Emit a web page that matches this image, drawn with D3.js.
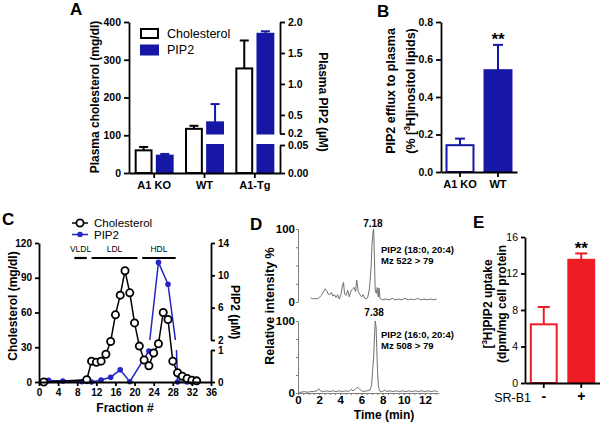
<!DOCTYPE html>
<html><head><meta charset="utf-8">
<script src="https://cdn.jsdelivr.net/npm/d3@7"></script>
<style>
body{margin:0;background:#fff;}
svg{display:block;}
</style></head><body>
<svg id="c" width="600" height="423"></svg>
<script>
// ---------- DATA ----------
// Panel A
const groupsA = ["A1 KO", "WT", "A1-Tg"];
const seriesA = ["Cholesterol", "PIP2"];
const cholA = [60, 117, 277];
const cholSemA = [9, 8, 74];
const pip2A = [0.031, 0.38, 1.81];
const pip2SemA = [0.003, 0.295, 0.04];
const ticksALeft = [0, 100, 200, 300, 400];
const ticksARightUp = [0.2, 0.5, 1.0, 1.5, 2.0];
const labelsARightUp = ["0.2", "0.5", "1.0", "1.5", "2.0"];
const ticksARightLow = [0, 0.05];
const labelsARightLow = ["0.00", "0.05"];
// Panel B
const groupsB = ["A1 KO", "WT"];
const valsB = [0.143, 0.543];
const semB = [0.035, 0.135];
const ticksB = [0, 0.2, 0.4, 0.6, 0.8];
// Panel C
const fracC = [1, 10, 11, 12, 13, 14, 15, 16, 17, 18, 19, 20, 21, 22, 23, 24, 25, 26, 27, 28, 29, 30, 31, 32, 33];
const cholC = [0, 2, 18, 17, 18, 24, 35, 58, 75, 96, 77, 51, 31, 19, 14, 25, 33, 60, 54, 18, 8, 5, 3, 1.5, 1];
const fracPipC = [2, 5, 9, 11, 13, 15, 17, 19, 23, 25, 27, 29, 31];
const pipC = [0.05, 0.03, 0.01, 0, 0.06, 0.15, 0.38, 0.01, 0.97, 11.6, 8.9, 0, 0];
const lipoNames = ["VLDL", "LDL", "HDL"];
const lipoStart = [7.4, 11, 21.6];
const lipoEnd = [10, 20.6, 28.6];
const ticksCx = [0, 4, 8, 12, 16, 20, 24, 28, 32, 36];
const ticksCLeft = [0, 30, 60, 90, 120];
const ticksCRightUp = [2, 6, 10, 14];
const ticksCRightLow = [0, 1];
// Panel D
const tD1 = [1.2,1.4,1.6,1.8,2.0,2.2,2.4,2.55,2.7,2.85,3.0,3.15,3.3,3.45,3.6,3.75,3.9,4.05,4.2,4.3,4.4,4.55,4.7,4.85,5.0,5.15,5.3,5.45,5.55,5.7,5.85,6.0,6.15,6.3,6.45,6.6,6.75,6.9,7.0,7.1,7.15,7.22,7.3,7.4,7.5,7.58,7.66,7.75,7.85,8.0,8.3,8.6,8.9,9.2,9.5,9.8,10.1,10.4,10.7,11.0,11.3,11.6,11.9,12.2,12.5,12.8,13.1];
const vD1 = [6,4,5,4,6,9,14,18,16,11,10,13,8,10,6,10,4,10,22,27,11,9,16,7,15,18,20,14,30,14,10,7,10,5,4,7,18,45,80,97,100,62,15,12,20,7,19,5,4,3,4,3,5,3,4,3,5,3,4,3,5,3,4,3,4,3,4];
const tD2 = [0,0.3,0.6,0.9,1.2,1.5,1.8,1.95,2.1,2.4,2.7,3.0,3.3,3.6,3.9,4.2,4.5,4.8,5.0,5.2,5.4,5.6,5.8,6.0,6.2,6.5,6.8,6.95,7.05,7.15,7.22,7.3,7.38,7.45,7.52,7.6,7.7,7.85,8.0,8.2,8.4,8.7,9.0,9.3,9.6,9.9,10.2,10.5,10.8,11.1,11.4,11.7,12.0,12.3,12.6,12.9,13.2];
const vD2 = [1,1,2,1,2,2,3,6,3,2,3,2,3,2,3,2,3,2,5,3,5,8,6,3,2,3,4,10,30,50,75,100,92,60,30,10,3,2,2,4,2,3,2,3,2,3,2,3,2,3,2,3,2,3,2,3,2];
const peakD = [7.18, 7.38];
const peakLabels = ["7.18", "7.38"];
const ticksDx = [0, 2, 4, 6, 8, 10, 12];
// Panel E
const groupsE = ["-", "+"];
const valsE = [6.43, 13.5];
const semE = [1.9, 0.7];
const ticksE = [0, 4, 8, 12, 16];

// ---------- DRAW ----------
const FONT = '"Liberation Sans", Arial, Helvetica, sans-serif';
const BLUE = "#1717a6";
const BLUE2 = "#2626c4";
const RED = "#ee1c24";
const svg = d3.select("#c").attr("font-family", FONT);

function sty(g, o = {}) {
  const c = o.color || "#000";
  g.attr("font-family", FONT).attr("font-size", o.fs || 10.5).attr("font-weight", o.fw || "bold");
  g.select(".domain").attr("stroke", c).attr("stroke-width", o.sw || 1.8);
  g.selectAll(".tick line").attr("stroke", c).attr("stroke-width", o.sw || 1.8);
  g.selectAll(".tick text").attr("fill", "#000");
  return g;
}
function txt(x, y, s, o = {}) {
  const t = svg.append("text").attr("x", x).attr("y", y).text(s)
    .attr("font-size", o.fs || 12).attr("font-weight", o.fw || "bold")
    .attr("text-anchor", o.anchor || "start").attr("fill", o.fill || "#000");
  if (o.dy) t.attr("dy", o.dy);
  return t;
}
function rtxt(x, y, rot, s, o = {}) {
  return svg.append("text").attr("transform", `translate(${x},${y}) rotate(${rot})`)
    .attr("text-anchor", "middle").attr("dy", "0.35em")
    .attr("font-size", o.fs || 12).attr("font-weight", o.fw || "bold").attr("fill", "#000").text(s);
}
function errBar(x, y0, y1, color, w = 9) {
  svg.append("line").attr("x1", x).attr("x2", x).attr("y1", y0).attr("y2", y1)
    .attr("stroke", color).attr("stroke-width", 2);
  svg.append("line").attr("x1", x - w / 2).attr("x2", x + w / 2).attr("y1", y1).attr("y2", y1)
    .attr("stroke", color).attr("stroke-width", 2);
}

// ===== Panel A =====
const xA = d3.scaleBand().domain(groupsA).range([129, 280]);
const sA = d3.scaleBand().domain(seriesA).range([-18.5, 18.5]).paddingInner(0.25);
const yA = d3.scaleLinear().domain([0, 400]).range([173, 22]);
const yAlo = d3.scaleLinear().domain([0, 0.05]).range([173, 145]);
const yAup = d3.scaleLinear().domain([0.2, 2.0]).range([133.5, 22]);

groupsA.forEach((g, i) => {
  const c = xA(g) + xA.bandwidth() / 2;
  const xc = c + sA("Cholesterol");
  errBar(xc + sA.bandwidth() / 2, yA(cholA[i]), yA(cholA[i] + cholSemA[i]), "#000");
  svg.append("rect").attr("x", xc).attr("y", yA(cholA[i])).attr("width", sA.bandwidth())
    .attr("height", yA(0) - yA(cholA[i])).attr("fill", "#fff").attr("stroke", "#000").attr("stroke-width", 2);
  const xp = c + sA("PIP2");
  const v = pip2A[i], top = v + pip2SemA[i];
  const ex = xp + sA.bandwidth() / 2;
  if (v > 0.2) errBar(ex, yAup(v), yAup(top), BLUE);
  else errBar(ex, yAlo(v), yAlo(Math.min(top, 0.05)), BLUE);
  const lo = Math.min(v, 0.05);
  svg.append("rect").attr("x", xp).attr("y", yAlo(lo)).attr("width", sA.bandwidth())
    .attr("height", yAlo(0) - yAlo(lo)).attr("fill", BLUE).attr("stroke", BLUE).attr("stroke-width", 2);
  if (v > 0.2) {
    svg.append("rect").attr("x", xp).attr("y", yAup(v)).attr("width", sA.bandwidth())
      .attr("height", yAup(0.2) - yAup(v)).attr("fill", BLUE).attr("stroke", BLUE).attr("stroke-width", 2);
  }
});
sty(svg.append("g").attr("transform", "translate(129,0)")
  .call(d3.axisLeft(yA).tickValues(ticksALeft).tickSize(5).tickSizeOuter(0).tickPadding(3)));
sty(svg.append("g").attr("transform", "translate(0,173)")
  .call(d3.axisBottom(xA).tickSize(5).tickSizeOuter(0).tickPadding(3)), { fs: 11 });
sty(svg.append("g").attr("transform", "translate(280,0)")
  .call(d3.axisRight(yAup).tickValues(ticksARightUp).tickFormat((d, i) => labelsARightUp[i]).tickSize(5).tickSizeOuter(0).tickPadding(3)));
sty(svg.append("g").attr("transform", "translate(280,0)")
  .call(d3.axisRight(yAlo).tickValues(ticksARightLow).tickFormat((d, i) => labelsARightLow[i]).tickSize(5).tickSizeOuter(0).tickPadding(3)));
seriesA.forEach((s, i) => {
  const y = 29 + i * 16.5;
  svg.append("rect").attr("x", 141).attr("y", y).attr("width", 17).attr("height", 9)
    .attr("fill", i ? BLUE : "#fff").attr("stroke", i ? BLUE : "#000").attr("stroke-width", 2);
  txt(167, y + 4.5, s, { fs: 12.5, fw: "normal", dy: "0.35em" });
});
rtxt(95, 97, -90, "Plasma cholesterol (mg/dl)");
rtxt(323, 102, 90, "Plasma PIP2 (\u00b5M)");
txt(70, 15, "A", { fs: 17 });

// ===== Panel B =====
const xB = d3.scaleBand().domain(groupsB).range([441, 517]).paddingInner(0.29).paddingOuter(0.145);
const yB = d3.scaleLinear().domain([0, 0.8]).range([172, 22]);
groupsB.forEach((g, i) => {
  const x = xB(g);
  errBar(x + xB.bandwidth() / 2, yB(valsB[i]), yB(valsB[i] + semB[i]), BLUE, 10);
  svg.append("rect").attr("x", x).attr("y", yB(valsB[i])).attr("width", xB.bandwidth())
    .attr("height", yB(0) - yB(valsB[i])).attr("fill", i ? BLUE : "#fff").attr("stroke", BLUE).attr("stroke-width", 2);
});
sty(svg.append("g").attr("transform", "translate(441,0)")
  .call(d3.axisLeft(yB).tickValues(ticksB).tickFormat(d3.format(".1f")).tickSize(5).tickSizeOuter(0).tickPadding(3)));
sty(svg.append("g").attr("transform", "translate(0,172)")
  .call(d3.axisBottom(xB).tickSize(5).tickSizeOuter(0).tickPadding(3)), { fs: 11 });
txt(xB("WT") + xB.bandwidth() / 2, 45, "**", { fs: 17, anchor: "middle" });
rtxt(391, 91, -90, "PIP2 efflux to plasma", { fs: 12.5 });
{
  const t = svg.append("text").attr("transform", "translate(411,91) rotate(-90)")
    .attr("text-anchor", "middle").attr("dy", "0.35em").attr("font-size", 12.5).attr("font-weight", "bold");
  t.append("tspan").text("(% [");
  t.append("tspan").text("3").attr("font-size", 8.5).attr("dy", -5);
  t.append("tspan").text("H]inositol lipids)").attr("dy", 5);
}
txt(377, 17, "B", { fs: 17 });

// ===== Panel C =====
const xC = d3.scaleLinear().domain([0, 36]).range([39, 211]);
const yC = d3.scaleLinear().domain([0, 120]).range([382, 243]);
const yClo = d3.scaleLinear().domain([0, 1]).range([382, 350]);
const yCup = d3.scaleLinear().domain([2, 14]).range([340, 243]);
const defs = svg.append("defs");
defs.append("clipPath").attr("id", "clipLo").append("rect").attr("x", 30).attr("y", 350).attr("width", 190).attr("height", 45);
defs.append("clipPath").attr("id", "clipUp").append("rect").attr("x", 30).attr("y", 230).attr("width", 190).attr("height", 110);
const pipPts = fracPipC.map((f, i) => [f, pipC[i]]);
svg.append("path").datum(pipPts).attr("clip-path", "url(#clipLo)")
  .attr("d", d3.line().x(d => xC(d[0])).y(d => yClo(d[1])))
  .attr("fill", "none").attr("stroke", BLUE2).attr("stroke-width", 1.5);
svg.append("path").datum(pipPts).attr("clip-path", "url(#clipUp)")
  .attr("d", d3.line().x(d => xC(d[0])).y(d => yCup(d[1])))
  .attr("fill", "none").attr("stroke", BLUE2).attr("stroke-width", 1.5);
svg.selectAll(".pipdot").data(pipPts).enter().append("circle")
  .attr("cx", d => xC(d[0])).attr("cy", d => d[1] <= 1 ? yClo(d[1]) : yCup(d[1]))
  .attr("r", 2.8).attr("fill", BLUE2);
const cholPts = fracC.map((f, i) => [f, cholC[i]]);
svg.append("path").datum(cholPts).attr("d", d3.line().x(d => xC(d[0])).y(d => yC(d[1])))
  .attr("fill", "none").attr("stroke", "#000").attr("stroke-width", 1.5);
svg.selectAll(".choldot").data(cholPts).enter().append("circle")
  .attr("cx", d => xC(d[0])).attr("cy", d => yC(d[1])).attr("r", 3.6)
  .attr("fill", "#fff").attr("stroke", "#000").attr("stroke-width", 1.8);
sty(svg.append("g").attr("transform", "translate(39,0)")
  .call(d3.axisLeft(yC).tickValues(ticksCLeft).tickSize(4).tickSizeOuter(0).tickPadding(3)), { fs: 10 });
sty(svg.append("g").attr("transform", "translate(0,382)")
  .call(d3.axisBottom(xC).tickValues(ticksCx).tickSize(4).tickSizeOuter(0).tickPadding(3)), { fs: 10 });
sty(svg.append("g").attr("transform", "translate(211,0)")
  .call(d3.axisRight(yCup).tickValues(ticksCRightUp).tickFormat(d3.format("d")).tickSize(4).tickSizeOuter(0).tickPadding(3)), { fs: 10 });
sty(svg.append("g").attr("transform", "translate(211,0)")
  .call(d3.axisRight(yClo).tickValues(ticksCRightLow).tickFormat(d3.format("d")).tickSize(4).tickSizeOuter(0).tickPadding(3)), { fs: 10 });
lipoNames.forEach((n, i) => {
  svg.append("line").attr("x1", xC(lipoStart[i])).attr("x2", xC(lipoEnd[i])).attr("y1", 258).attr("y2", 258)
    .attr("stroke", "#000").attr("stroke-width", 2.2);
  txt((xC(lipoStart[i]) + xC(lipoEnd[i])) / 2, 251.5, n, { fs: 8.5, fw: "normal", anchor: "middle" });
});
svg.append("line").attr("x1", 72).attr("x2", 88).attr("y1", 223).attr("y2", 223).attr("stroke", "#000").attr("stroke-width", 1.5);
svg.append("circle").attr("cx", 80).attr("cy", 223).attr("r", 3.6).attr("fill", "#fff").attr("stroke", "#000").attr("stroke-width", 1.8);
svg.append("line").attr("x1", 72).attr("x2", 88).attr("y1", 234.5).attr("y2", 234.5).attr("stroke", BLUE2).attr("stroke-width", 1.5);
svg.append("circle").attr("cx", 80).attr("cy", 234.5).attr("r", 2.8).attr("fill", BLUE2);
txt(94, 223, "Cholesterol", { fs: 11.5, fw: "normal", dy: "0.35em" });
txt(94, 234.5, "PIP2", { fs: 11.5, fw: "normal", dy: "0.35em" });
rtxt(13, 306, -90, "Cholesterol (mg/dl)");
rtxt(235, 312, 90, "PIP2 (\u00b5M)");
txt(125, 408, "Fraction #", { fs: 12, anchor: "middle", dy: "0.35em" });
txt(2, 225, "C", { fs: 17 });

// ===== Panel D =====
const GRAY = "#808080";
const xD = d3.scaleLinear().domain([0, 13.3]).range([298, 438.7]);
const yD1 = d3.scaleLinear().domain([0, 100]).range([302, 229]);
const yD2 = d3.scaleLinear().domain([0, 100]).range([393, 321]);
svg.append("path").datum(tD1.map((t, i) => [t, vD1[i]]))
  .attr("d", d3.line().x(d => xD(d[0])).y(d => yD1(d[1])))
  .attr("fill", "none").attr("stroke", "#707070").attr("stroke-width", 1);
svg.append("path").datum(tD2.map((t, i) => [t, vD2[i]]))
  .attr("d", d3.line().x(d => xD(d[0])).y(d => yD2(d[1])))
  .attr("fill", "none").attr("stroke", "#707070").attr("stroke-width", 1);
[yD1, yD2].forEach(ys => {
  sty(svg.append("g").attr("transform", "translate(298,0)")
    .call(d3.axisLeft(ys).tickValues([0, 100]).tickSize(0).tickSizeOuter(0).tickPadding(3)),
    { color: GRAY, sw: 1, fs: 11.5 });
  sty(svg.append("g").attr("transform", "translate(298,0)")
    .call(d3.axisLeft(ys).tickValues(d3.range(0, 101, 25)).tickFormat("").tickSize(2).tickSizeOuter(0)),
    { color: GRAY, sw: 1 });
});
sty(svg.append("g").attr("transform", "translate(0,393)")
  .call(d3.axisBottom(xD).tickValues(ticksDx).tickSize(2).tickSizeOuter(0).tickPadding(1)),
  { color: GRAY, sw: 1, fs: 11.5 });
sty(svg.append("g").attr("transform", "translate(0,393)")
  .call(d3.axisBottom(xD).tickValues(d3.range(0, 13.3, 0.5)).tickFormat("").tickSize(2).tickSizeOuter(0)),
  { color: GRAY, sw: 1 });
txt(xD(peakD[0]) - 1, 227, peakLabels[0], { fs: 10, anchor: "middle" });
txt(xD(peakD[1]) - 2, 316, peakLabels[1], { fs: 10, anchor: "middle" });
txt(381, 253, "PIP2 (18:0, 20:4)", { fs: 9.5 });
txt(381, 264, "Mz 522 > 79", { fs: 9.5 });
txt(381, 338, "PIP2 (16:0, 20:4)", { fs: 9.5 });
txt(381, 349, "Mz 508 > 79", { fs: 9.5 });
rtxt(270, 306, -90, "Relative intensity %", { fs: 12.5 });
txt(384, 415, "Time (min)", { fs: 12, anchor: "middle", dy: "0.35em" });
txt(250, 230, "D", { fs: 17 });

// ===== Panel E =====
const xE = d3.scaleBand().domain(groupsE).range([525, 600]).paddingInner(0.31).paddingOuter(0.155);
const yE = d3.scaleLinear().domain([0, 16]).range([383, 237]);
groupsE.forEach((g, i) => {
  const x = xE(g);
  errBar(x + xE.bandwidth() / 2, yE(valsE[i]), yE(valsE[i] + semE[i]), RED, 12);
  svg.append("rect").attr("x", x).attr("y", yE(valsE[i])).attr("width", xE.bandwidth())
    .attr("height", yE(0) - yE(valsE[i])).attr("fill", i ? RED : "#fff").attr("stroke", RED).attr("stroke-width", 2);
});
sty(svg.append("g").attr("transform", "translate(525,0)")
  .call(d3.axisLeft(yE).tickValues(ticksE).tickSize(4).tickSizeOuter(0).tickPadding(3)), { fs: 10.5, fw: "normal" });
sty(svg.append("g").attr("transform", "translate(0,383)")
  .call(d3.axisBottom(xE).tickSize(5).tickSizeOuter(0).tickPadding(3)), { fs: 14 });
txt(xE("+") + xE.bandwidth() / 2, 254, "**", { fs: 17, anchor: "middle" });
txt(531, 397.5, "SR-B1", { fs: 12.5, fw: "normal", anchor: "end", dy: "0.35em" });
{
  const t = svg.append("text").attr("transform", "translate(488,304) rotate(-90)")
    .attr("text-anchor", "middle").attr("dy", "0.35em").attr("font-size", 12).attr("font-weight", "bold");
  t.append("tspan").text("[");
  t.append("tspan").text("3").attr("font-size", 8).attr("dy", -5);
  t.append("tspan").text("H]PIP2 uptake").attr("dy", 5);
}
rtxt(502, 304, -90, "(dpm/mg cell protein", { fs: 12 });
txt(473, 228, "E", { fs: 17 });
</script>
</body></html>
